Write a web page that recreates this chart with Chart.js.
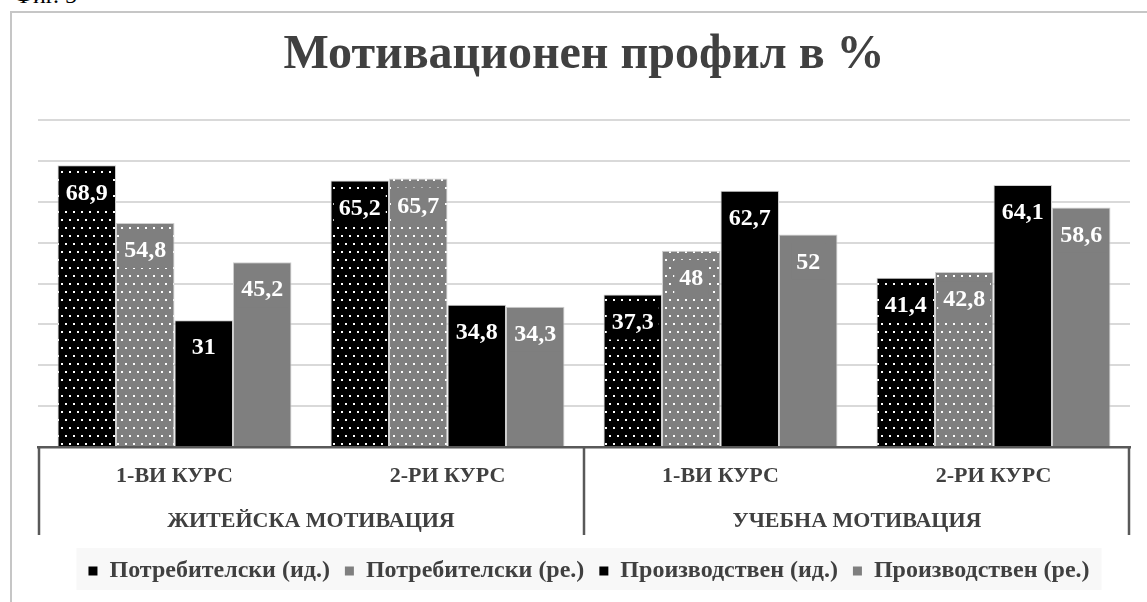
<!DOCTYPE html>
<html>
<head>
<meta charset="utf-8">
<script src="https://cdn.jsdelivr.net/npm/chart.js@4.4.0/dist/chart.umd.min.js"></script>
<style>
  html, body { margin: 0; padding: 0; background: #fff; overflow: hidden; }
  #wrap { position: relative; width: 1147px; height: 602px; }
  #fig { position: absolute; left: 14px; top: -18px; font: 24px 'Liberation Serif', serif; color: #000; }
  #frame { position: absolute; left: 10px; top: 11px; width: 1200px; height: 700px; border: 2px solid #c6c6c6; }
  canvas { position: absolute; left: 0; top: 0; }
</style>
</head>
<body>
<div id="wrap">
  <div id="fig">Фиг. 5</div>
  <div id="frame"></div>
  <canvas id="chart" width="1147" height="602"></canvas>
</div>
<script>
// data
const courses = ['1-ВИ КУРС', '2-РИ КУРС', '1-ВИ КУРС', '2-РИ КУРС'];
const groups = ['ЖИТЕЙСКА МОТИВАЦИЯ', 'УЧЕБНА МОТИВАЦИЯ'];
const seriesNames = ['Потребителски (ид.)', 'Потребителски (ре.)', 'Производствен (ид.)', 'Производствен (ре.)'];
const consumerIdeal = [68.9, 65.2, 37.3, 41.4];
const consumerReal = [54.8, 65.7, 48, 42.8];
const productiveIdeal = [31, 34.8, 62.7, 64.1];
const productiveReal = [45.2, 34.3, 52, 58.6];
const yMin = 0, yMax = 80, yStep = 10;

const serif = "'Liberation Serif', 'Times New Roman', serif";
const solid = ['#000000', '#7f7f7f', '#000000', '#7f7f7f'];

function dots(bg) {
    const c = document.createElement('canvas');
    c.width = 8; c.height = 16;
    const g = c.getContext('2d');
    g.fillStyle = bg;
    g.fillRect(0, 0, 8, 16);
    g.fillStyle = '#ffffff';
    g.fillRect(1, 3, 2, 2);
    g.fillRect(5, 11, 2, 2);
    return g.createPattern(c, 'repeat');
}

const fills = [dots('#000000'), dots('#7f7f7f'), '#000000', '#7f7f7f'];
const values = [consumerIdeal, consumerReal, productiveIdeal, productiveReal];

// value boxes at the top of each bar
const valueLabels = {
    id: 'valueLabels',
    afterDatasetsDraw(chart) {
        const c = chart.ctx;
        c.save();
        c.font = 'bold 24px ' + serif;
        c.textAlign = 'center';
        c.textBaseline = 'middle';
        chart.data.datasets.forEach((ds, i) => {
            chart.getDatasetMeta(i).data.forEach((bar, j) => {
                const txt = String(ds.data[j]).replace('.', ',');
                const w = c.measureText(txt).width + 10;
                const y = bar.y + 27;
                c.fillStyle = solid[i];
                c.fillRect(bar.x - w / 2, y - 18, w, 36);
                c.fillStyle = '#ffffff';
                c.fillText(txt, bar.x, y + 1);
            });
        });
        c.restore();
    }
};

// nudge legend a little right, as in the original
const legendShift = {
    id: 'legendShift',
    afterLayout(chart) {
        chart.legend.left += 5;
        chart.legend.right += 5;
    }
};

// grey box behind the legend
const legendBg = {
    id: 'legendBg',
    beforeDraw(chart) {
        const lg = chart.legend;
        if (!lg || !lg.legendHitBoxes.length) return;
        const boxes = lg.legendHitBoxes;
        const l = Math.min(...boxes.map(b => b.left)) - 12;
        const r = Math.max(...boxes.map(b => b.left + b.width)) + 12;
        const t = Math.min(...boxes.map(b => b.top)) - 11;
        const btm = Math.max(...boxes.map(b => b.top + b.height)) + 7;
        const c = chart.ctx;
        c.save();
        c.fillStyle = '#f8f8f8';
        c.fillRect(l, t, r - l, btm - t);
        c.restore();
    }
};

// separators of the two-level category axis
const groupLines = {
    id: 'groupLines',
    afterDraw(chart) {
        const x = chart.scales.x;
        const top = chart.chartArea.bottom;
        const bottom = top + 88;
        const mid = (x.getPixelForValue(1) + x.getPixelForValue(2)) / 2;
        const c = chart.ctx;
        c.save();
        c.strokeStyle = '#595959';
        c.lineWidth = 2.5;
        c.beginPath();
        [x.left + 1, mid, x.right - 1].forEach(px => {
            c.moveTo(px, top);
            c.lineTo(px, bottom);
        });
        c.stroke();
        c.restore();
    }
};

new Chart(document.getElementById('chart'), {
    type: 'bar',
    data: {
        labels: courses,
        datasets: values.map((v, i) => ({
            label: seriesNames[i],
            data: v,
            backgroundColor: fills[i],
            borderColor: '#cfcfcf',
            borderWidth: 1,
            categoryPercentage: 0.857,
            barPercentage: 1.0
        }))
    },
    options: {
        responsive: false,
        animation: false,
        layout: { padding: { left: 38, right: 17, top: 0, bottom: 9 } },
        scales: {
            x: {
                grid: { display: false, drawTicks: false },
                border: { display: true, color: '#595959', width: 2.5 },
                ticks: { padding: 16, color: '#404040', font: { family: serif, size: 22, weight: 'bold' } },
                afterFit(scale) { scale.height = 44; }
            },
            x2: {
                type: 'category',
                labels: groups,
                position: 'bottom',
                offset: true,
                grid: { display: false, drawTicks: false },
                border: { display: false },
                ticks: { padding: 17, color: '#404040', font: { family: serif, size: 22, weight: 'bold' } },
                afterFit(scale) { scale.height = 53; }
            },
            y: {
                min: yMin,
                max: yMax,
                ticks: { display: false, stepSize: yStep },
                grid: { color: '#d9d9d9', lineWidth: 2, drawTicks: false },
                border: { display: false }
            }
        },
        plugins: {
            title: {
                display: true,
                text: 'Мотивационен профил в %',
                color: '#404040',
                font: { family: serif, size: 48, weight: 'bold' },
                padding: { top: 27, bottom: 35.4 }
            },
            legend: {
                position: 'bottom',
                labels: {
                    boxWidth: 9,
                    boxHeight: 9,
                    padding: 15,
                    color: '#404040',
                    font: { family: serif, size: 24, weight: 'bold' },
                    generateLabels: () => seriesNames.map((n, i) => ({
                        text: n,
                        fillStyle: solid[i],
                        strokeStyle: solid[i],
                        lineWidth: 0,
                        fontColor: '#404040',
                        datasetIndex: i,
                        hidden: false
                    }))
                }
            },
            tooltip: { enabled: false }
        }
    },
    plugins: [legendShift, valueLabels, legendBg, groupLines]
});
</script>
</body>
</html>
